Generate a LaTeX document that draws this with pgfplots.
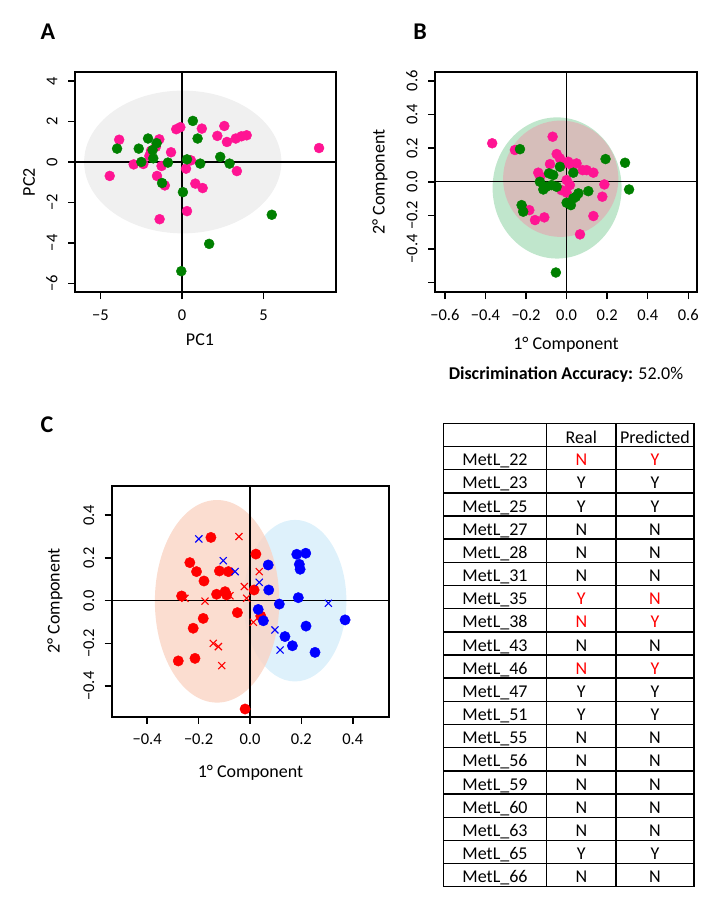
\documentclass[border=0pt]{standalone}
\usepackage{fontspec}
\setmainfont{Carlito}
\usepackage{pgfplots}
\pgfplotsset{compat=1.18}

\definecolor{mypink}{RGB}{255,20,147}
\definecolor{mygreen}{RGB}{0,128,0}
\definecolor{ellgray}{RGB}{240,240,240}
\definecolor{ellgreen}{RGB}{192,230,204}
\definecolor{ellrose}{RGB}{214,190,186}
\definecolor{ellorange}{RGB}{250,212,196}
\definecolor{ellblue}{RGB}{222,241,251}

\newcommand{\lab}{\fontsize{18}{20}\selectfont}
\newcommand{\panel}{\fontsize{24}{26}\selectfont\bfseries}

\pgfplotsset{rplot/.style={
    scale only axis,
    anchor=south west,
    axis line style={line width=1.8pt},
    tick pos=left,
    tick align=outside,
    major tick length=7pt,
    tick style={black, line width=1.5pt},
    tick label style={font=\fontsize{16.5}{18}\selectfont},
    xticklabel style={anchor=north, yshift=-7pt},
    yticklabel style={xshift=-7pt, rotate=90, anchor=south},
    clip=true
}}

\begin{document}
\begin{tikzpicture}
\path[use as bounding box] (0pt,0pt) rectangle (713pt,-909pt);

% ---- A: PCA
\begin{axis}[rplot, at={(75pt,-292pt)}, width=261pt, height=220pt,
    xmin=-6.56, xmax=9.45, ymin=-6.43, ymax=4.45,
    xtick={-5,0,5}, xticklabels={−5,0,5},
    ytick={-6,-4,-2,0,2,4}, yticklabels={−6,−4,−2,0,2,4}]
\fill[ellgray] (axis cs:0.05,0) ellipse [x radius=6.05, y radius=3.53];
\draw[line width=1.4pt] (axis cs:0,-10) -- (axis cs:0,10);
\draw[line width=1.4pt] (axis cs:-10,0) -- (axis cs:10,0);
\addplot[only marks, mark=*, color=mypink, mark size=5pt] coordinates {
    (-3.85,1.1) (-4.43,-0.69) (-2.96,-0.12) (-2.37,-0.1) (-2.0,0.3)
    (-1.39,1.12) (-1.6,0.75) (-0.67,0.48) (-1.25,-0.2) (-1.53,-0.69)
    (-1.05,-1.16) (-1.37,-2.83) (-0.35,1.62) (-0.1,1.72) (0.25,-0.33)
    (0.55,0.08) (1.22,1.65) (0.82,-1.07) (1.27,-1.29) (0.31,-2.43)
    (2.17,1.29) (2.6,1.78) (2.76,0.99) (3.3,1.16) (3.65,1.27)
    (3.97,1.32) (3.37,-0.45) (8.41,0.69) (-1.9,0.55)
};
\addplot[only marks, mark=*, color=mygreen, mark size=5pt] coordinates {
    (-3.98,0.66) (-2.65,0.66) (-2.49,0.0) (-2.08,1.16) (-1.8,0.59)
    (-1.76,0.18) (-1.55,0.93) (-0.86,-0.03) (-1.22,-1.04) (0.67,2.03)
    (0.96,1.16) (0.31,0.13) (1.12,-0.08) (2.35,0.25) (2.92,-0.08)
    (0.06,-1.49) (5.51,-2.61) (1.67,-4.05) (-0.04,-5.4)
};
\end{axis}

% ---- B: PLS-DA
\begin{axis}[rplot, at={(435pt,-292pt)}, width=262pt, height=220pt,
    xmin=-0.649, xmax=0.643, ymin=-0.656, ymax=0.653,
    xtick={-0.6,-0.4,-0.2,0,0.2,0.4,0.6},
    xticklabels={−0.6,−0.4,−0.2,0.0,0.2,0.4,0.6},
    ytick={-0.6,-0.4,-0.2,0,0.2,0.4,0.6},
    yticklabels={,−0.4,−0.2,0.0,0.2,0.4,0.6}]
\fill[ellgreen] (axis cs:-0.047,-0.037) ellipse [x radius=0.318, y radius=0.42];
\fill[ellrose] (axis cs:-0.029,0.018) ellipse [x radius=0.284, y radius=0.346];
\draw[line width=1.4pt] (axis cs:0,-1) -- (axis cs:0,1);
\draw[line width=1.4pt] (axis cs:-1,0) -- (axis cs:1,0);
\addplot[only marks, mark=*, color=mypink, mark size=5pt] coordinates {
    (-0.367,0.229) (-0.255,0.189) (-0.069,0.268) (-0.082,0.105) (-0.049,0.165)
    (-0.033,0.139) (-0.013,0.109) (0.008,0.119) (0.025,0.1) (0.049,0.109)
    (0.079,0.069) (0.099,0.069) (0.132,0.054) (-0.14,0.054) (-0.13,0.03)
    (0.0,0.01) (0.016,-0.02) (-0.025,-0.05) (0.0,-0.065) (0.186,-0.016)
    (0.176,-0.089) (0.132,-0.204) (0.066,-0.313) (-0.214,-0.159) (-0.184,-0.169)
    (-0.156,-0.228) (-0.11,-0.212)
};
\addplot[only marks, mark=*, color=mygreen, mark size=5pt] coordinates {
    (-0.23,0.194) (0.192,0.135) (0.288,0.113) (0.308,-0.046) (-0.053,-0.54)
    (-0.222,-0.139) (-0.214,-0.178) (-0.132,0.0) (-0.115,-0.046) (-0.087,0.05)
    (-0.066,0.04) (-0.074,-0.02) (-0.049,-0.03) (0.033,0.054) (-0.033,0.089)
    (0.058,-0.069) (0.045,-0.09) (0.033,-0.099) (0.0,-0.125) (0.021,-0.139)
    (0.107,-0.056) (-0.1,-0.03)
};
\end{axis}

% ---- C: validation
\begin{axis}[rplot, at={(111.7pt,-716.7pt)}, width=277.6pt, height=231pt,
    xmin=-0.538, xmax=0.542, ymin=-0.543, ymax=0.538,
    xtick={-0.4,-0.2,0,0.2,0.4},
    xticklabels={−0.4,−0.2,0.0,0.2,0.4},
    ytick={-0.4,-0.2,0,0.2,0.4},
    yticklabels={−0.4,−0.2,0.0,0.2,0.4}]
\fill[ellblue] (axis cs:0.175,0) ellipse [x radius=0.2, y radius=0.378];
\fill[ellorange, fill opacity=0.8] (axis cs:-0.128,-0.003) ellipse [x radius=0.242, y radius=0.474];
\draw[line width=1.4pt] (axis cs:0,-1) -- (axis cs:0,1);
\draw[line width=1.4pt] (axis cs:-1,0) -- (axis cs:1,0);
\addplot[only marks, mark=*, color=red, mark size=5.2pt] coordinates {
    (-0.152,0.296) (0.023,0.218) (-0.234,0.178) (-0.208,0.136) (-0.179,0.092)
    (-0.119,0.139) (-0.084,0.136) (-0.266,0.022) (-0.13,0.03) (-0.097,0.042)
    (-0.091,0.027) (0.016,0.05) (-0.049,-0.056) (-0.182,-0.083) (-0.221,-0.129)
    (-0.279,-0.282) (-0.214,-0.27) (-0.019,-0.507) (0.042,-0.072)
};
\addplot[only marks, mark=x, color=red, mark size=5pt, line width=1.1pt] coordinates {
    (-0.043,0.3) (0.036,0.136) (-0.022,0.066) (-0.013,0.011) (-0.078,0.023)
    (-0.175,-0.002) (-0.253,0.011) (0.013,-0.101) (-0.143,-0.2) (-0.123,-0.215)
    (-0.11,-0.304)
};
\addplot[only marks, mark=*, color=blue, mark size=5.2pt] coordinates {
    (0.182,0.217) (0.217,0.222) (0.192,0.17) (0.195,0.147) (0.071,0.167)
    (0.073,0.05) (0.114,-0.016) (0.188,0.014) (0.032,-0.041) (0.052,-0.094)
    (0.218,-0.119) (0.37,-0.09) (0.136,-0.168) (0.165,-0.211) (0.253,-0.242)
};
\addplot[only marks, mark=x, color=blue, mark size=5pt, line width=1.1pt] coordinates {
    (-0.199,0.289) (-0.104,0.187) (-0.058,0.136) (0.036,0.086) (0.305,-0.012)
    (0.097,-0.137) (0.117,-0.231)
};
\end{axis}

\begin{scope}[x=1pt, y=-1pt]
% panel letters and axis titles
\node[font=\panel] at (48,32) {A};
\node[font=\panel] at (420,32) {B};
\node[font=\panel] at (47,425) {C};
\node[font=\lab] at (200,340) {PC1};
\node[font=\lab, rotate=90] at (29,182) {PC2};
\node[font=\lab] at (566,345) {1° Component};
\node[font=\lab, rotate=90] at (380,182) {2° Component};
\node[font=\lab] at (566,375) {\textbf{Discrimination Accuracy:} 52.0\%};
\node[font=\lab] at (250.5,773) {1° Component};
\node[font=\lab, rotate=90] at (55,601) {2° Component};

% table
\draw[line width=1.4pt] (443.3,423.3) rectangle (694,886.7);
\draw[line width=1.4pt] (546.7,423.3) -- (546.7,886.7);
\draw[line width=1.4pt] (616,423.3) -- (616,886.7);
\foreach \k in {1,...,19}
    \draw[line width=1.4pt] (443.3,423.3+23.17*\k) -- (694,423.3+23.17*\k);
\node[font=\lab, anchor=base] at (581.3,443.3) {Real};
\node[font=\lab, anchor=base] at (655,443.3) {Predicted};
\foreach [count=\i] \n/\r/\p/\c in {22/N/Y/red, 23/Y/Y/black, 25/Y/Y/black,
    27/N/N/black, 28/N/N/black, 31/N/N/black, 35/Y/N/red, 38/N/Y/red,
    43/N/N/black, 46/N/Y/red, 47/Y/Y/black, 51/Y/Y/black, 55/N/N/black,
    56/N/N/black, 59/N/N/black, 60/N/N/black, 63/N/N/black, 65/Y/Y/black,
    66/N/N/black} {
    \node[font=\lab, anchor=base] at (495,442.6+23.17*\i) {MetL\_\n};
    \node[font=\lab, anchor=base, text=\c] at (581.3,442.6+23.17*\i) {\r};
    \node[font=\lab, anchor=base, text=\c] at (655,442.6+23.17*\i) {\p};
}
\end{scope}
\end{tikzpicture}
\end{document}
